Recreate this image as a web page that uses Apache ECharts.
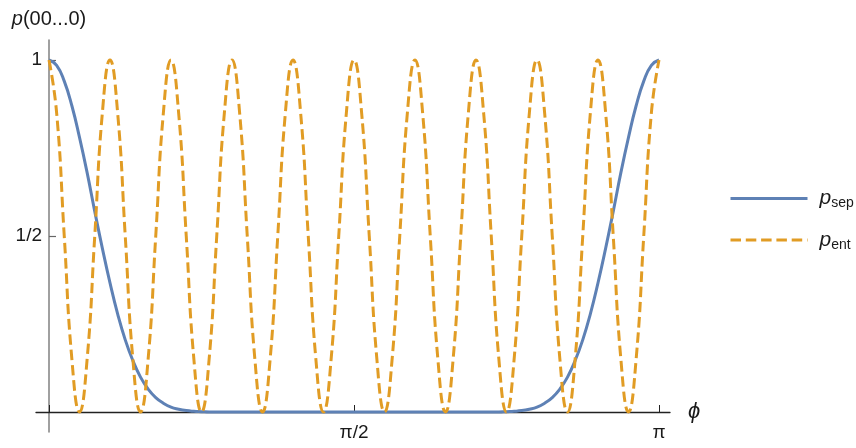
<!DOCTYPE html>
<html>
<head>
<meta charset="utf-8">
<script src="https://cdn.jsdelivr.net/npm/echarts@6/dist/echarts.min.js"></script>
<style>
  html, body { margin: 0; padding: 0; background: #fff; }
  #chart { width: 856px; height: 448px; }
</style>
</head>
<body>
<div id="chart"></div>
<script>
// phi sample points, in units of pi
const phiOverPi = [0, 0.0125, 0.025, 0.0375, 0.05, 0.0625, 0.075, 0.0875, 0.1, 0.1125,
  0.125, 0.1375, 0.15, 0.1625, 0.175, 0.1875, 0.2, 0.2125, 0.225, 0.2375,
  0.25, 0.2625, 0.275, 0.2875, 0.3, 0.3125, 0.325, 0.3375, 0.35, 0.3625,
  0.375, 0.3875, 0.4, 0.4125, 0.425, 0.4375, 0.45, 0.4625, 0.475, 0.4875,
  0.5, 0.5125, 0.525, 0.5375, 0.55, 0.5625, 0.575, 0.5875, 0.6, 0.6125,
  0.625, 0.6375, 0.65, 0.6625, 0.675, 0.6875, 0.7, 0.7125, 0.725, 0.7375,
  0.75, 0.7625, 0.775, 0.7875, 0.8, 0.8125, 0.825, 0.8375, 0.85, 0.8625,
  0.875, 0.8875, 0.9, 0.9125, 0.925, 0.9375, 0.95, 0.9625, 0.975, 0.9875, 1];

// p_sep (solid blue)
const pSep = [1, 0.985, 0.94, 0.87, 0.78, 0.68, 0.57, 0.465, 0.367, 0.279,
  0.205, 0.146, 0.099, 0.065, 0.041, 0.025, 0.014, 0.008, 0.004, 0.002,
  0.001, 0, 0, 0, 0, 0, 0, 0, 0, 0,
  0, 0, 0, 0, 0, 0, 0, 0, 0, 0,
  0, 0, 0, 0, 0, 0, 0, 0, 0, 0,
  0, 0, 0, 0, 0, 0, 0, 0, 0, 0,
  0.001, 0.002, 0.004, 0.008, 0.014, 0.025, 0.041, 0.065, 0.099, 0.146,
  0.205, 0.279, 0.367, 0.465, 0.57, 0.68, 0.78, 0.87, 0.94, 0.985, 1];

// p_ent (dashed orange)
const pEnt = [1, 0.85, 0.5, 0.15, 0, 0.15, 0.5, 0.85,
  1, 0.85, 0.5, 0.15, 0, 0.15, 0.5, 0.85,
  1, 0.85, 0.5, 0.15, 0, 0.15, 0.5, 0.85,
  1, 0.85, 0.5, 0.15, 0, 0.15, 0.5, 0.85,
  1, 0.85, 0.5, 0.15, 0, 0.15, 0.5, 0.85,
  1, 0.85, 0.5, 0.15, 0, 0.15, 0.5, 0.85,
  1, 0.85, 0.5, 0.15, 0, 0.15, 0.5, 0.85,
  1, 0.85, 0.5, 0.15, 0, 0.15, 0.5, 0.85,
  1, 0.85, 0.5, 0.15, 0, 0.15, 0.5, 0.85,
  1, 0.85, 0.5, 0.15, 0, 0.15, 0.5, 0.85,
  1];

const xTickValues = [0.5, 1];          // in units of pi
const xTickLabels = ['π/2', 'π'];
const yTickValues = [0.5, 1];
const yTickLabels = ['1/2', '1'];
const seriesNames = ['p_sep', 'p_ent'];
const seriesSubs = ['sep', 'ent'];

const FONT = '"Liberation Sans", Arial, sans-serif';
const TEXT = '#1a1a1a';

function pairs(ys) {
  return phiOverPi.map((p, i) => [p * Math.PI, ys[i]]);
}

const chart = echarts.init(document.getElementById('chart'));

const option = {
  backgroundColor: '#fff',
  animation: false,
  grid: { left: 36, right: 186, top: 40, bottom: 16, outerBoundsMode: 'none' },
  xAxis: {
    type: 'value',
    min: -13 / 610 * Math.PI,
    max: 621 / 610 * Math.PI,
    axisLine: { onZero: true, lineStyle: { color: '#222', width: 1.3 } },
    axisTick: {
      inside: true, length: 7,
      customValues: [0].concat(xTickValues.map(v => v * Math.PI)),
      lineStyle: { color: '#222', width: 1 }
    },
    axisLabel: {
      customValues: xTickValues.map(v => v * Math.PI),
      formatter: v => xTickLabels[xTickValues.findIndex(t => Math.abs(t * Math.PI - v) < 1e-6)],
      margin: -9, fontSize: 19, color: TEXT, fontFamily: FONT
    },
    splitLine: { show: false },
    name: 'ϕ',
    nameLocation: 'end',
    nameGap: 18,
    nameTextStyle: {
      fontStyle: 'italic', fontSize: 22, color: TEXT, fontFamily: FONT,
      verticalAlign: 'middle', padding: [10, 0, 0, 0]
    }
  },
  yAxis: {
    type: 'value',
    min: -20 / 352,
    max: 372 / 352,
    axisLine: { onZero: true, lineStyle: { color: '#808080', width: 1.5 } },
    axisTick: {
      inside: true, length: 7,
      customValues: yTickValues,
      lineStyle: { color: '#666', width: 1.2 }
    },
    axisLabel: {
      customValues: yTickValues,
      formatter: v => yTickLabels[yTickValues.findIndex(t => Math.abs(t - v) < 1e-6)],
      margin: -6, fontSize: 19, color: TEXT, fontFamily: FONT
    },
    splitLine: { show: false },
    name: '{i|p}(00...0)',
    nameLocation: 'end',
    nameGap: 11,
    nameTextStyle: {
      fontSize: 20, color: TEXT, fontFamily: FONT,
      rich: { i: { fontStyle: 'italic', fontSize: 20, color: TEXT, fontFamily: FONT } }
    }
  },
  legend: {
    orient: 'vertical',
    left: 729,
    top: 188,
    padding: 0,
    itemWidth: 77,
    itemHeight: 20,
    itemGap: 19,
    data: seriesNames,
    lineStyle: { width: 3 },
    formatter: name => '{p|p}{s|' + seriesSubs[seriesNames.indexOf(name)] + '}',
    textStyle: {
      padding: [0, 0, 0, 7],
      rich: {
        p: { fontStyle: 'italic', fontSize: 21, lineHeight: 24, color: TEXT, fontFamily: FONT },
        s: { fontSize: 14, lineHeight: 14, verticalAlign: 'bottom', color: TEXT, fontFamily: FONT }
      }
    }
  },
  series: [
    {
      name: seriesNames[0],
      type: 'line',
      data: pairs(pSep),
      smooth: true,
      symbol: 'none',
      lineStyle: { color: '#5E81B5', width: 3 },
      itemStyle: { color: 'rgba(0,0,0,0)' }
    },
    {
      name: seriesNames[1],
      type: 'line',
      data: pairs(pEnt),
      smooth: true,
      symbol: 'none',
      lineStyle: { color: '#E19C24', width: 3, type: [10.5, 4.8] },
      itemStyle: { color: 'rgba(0,0,0,0)' }
    }
  ]
};

chart.setOption(option);
</script>
</body>
</html>
